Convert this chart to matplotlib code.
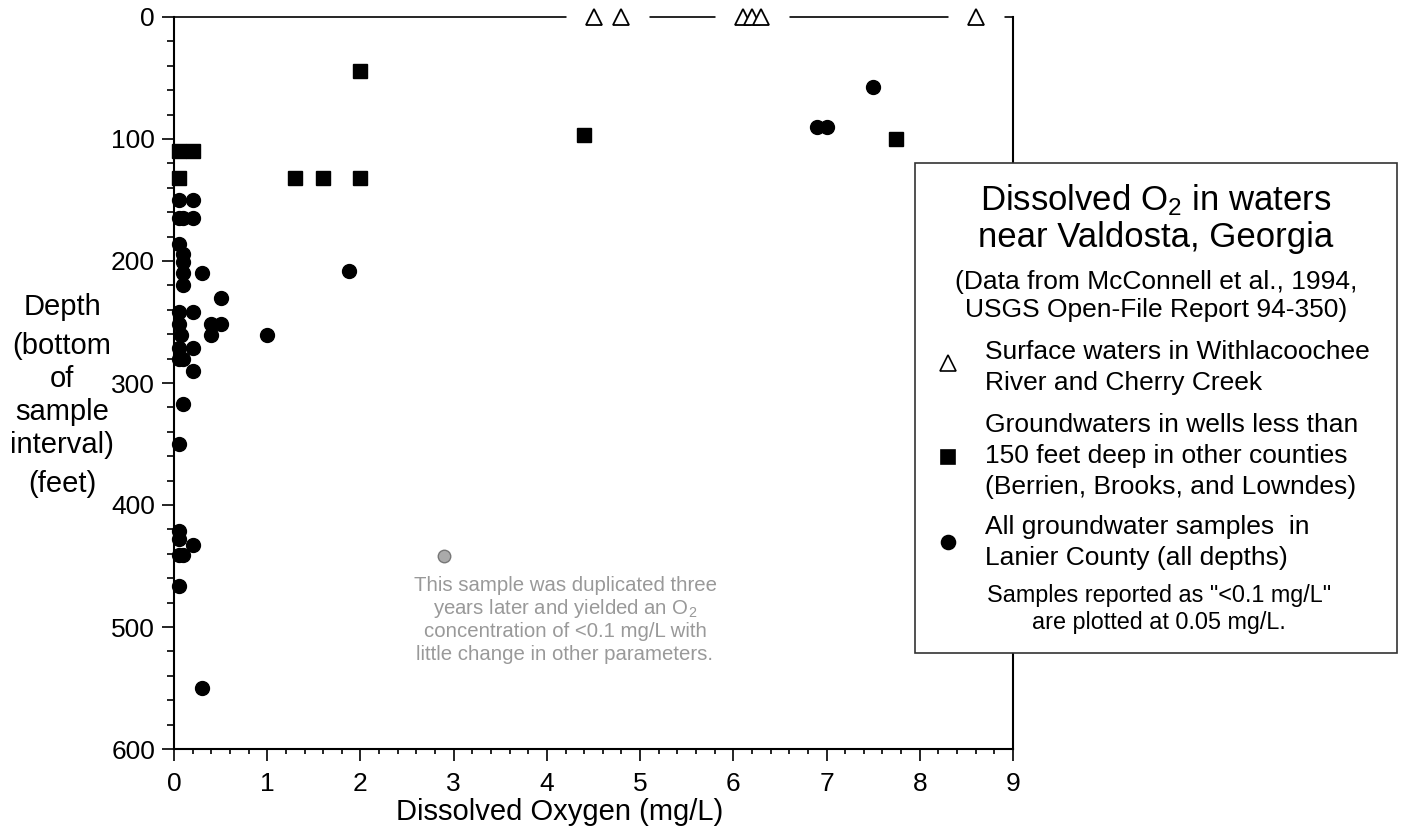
import matplotlib
matplotlib.use("Agg")
import numpy as np
import matplotlib.pyplot as plt
from matplotlib.patches import Rectangle
from matplotlib.lines import Line2D

plt.rcParams["font.family"] = ["Liberation Sans", "DejaVu Sans"]
plt.rcParams["mathtext.fontset"] = "custom"
plt.rcParams["mathtext.rm"] = "Liberation Sans"
plt.rcParams["mathtext.it"] = "Liberation Sans:italic"
plt.rcParams["mathtext.bf"] = "Liberation Sans:bold"

# surface waters, plotted on the top edge (depth 0)
surface_do = [4.5, 4.8, 6.1, 6.2, 6.3, 8.6]
surface_depth = [0, 0, 0, 0, 0, 0]

# wells < 150 ft deep in Berrien, Brooks and Lowndes counties
shallow_do = [2.0, 0.05, 0.2, 0.05, 1.3, 1.6, 2.0, 4.4, 7.75]
shallow_depth = [44, 110, 110, 132, 132, 132, 132, 97, 100]

# all groundwater samples in Lanier County
lanier_do = [0.05, 0.2, 0.05, 0.1, 0.2, 0.05, 0.1, 0.1, 0.1, 0.3, 1.88,
             0.1, 0.5, 0.05, 0.2, 0.05, 0.4, 0.5, 0.08, 0.4, 1.0,
             0.05, 0.2, 0.05, 0.1, 0.2, 0.1, 0.05,
             0.05, 0.05, 0.2, 0.05, 0.1, 0.05, 0.3,
             7.5, 6.9, 7.0]
lanier_depth = [150, 150, 165, 165, 165, 186, 194, 201, 210, 210, 208,
                220, 230, 242, 242, 252, 252, 252, 261, 261, 261,
                271, 271, 280, 280, 290, 317, 350,
                421, 428, 433, 441, 441, 466, 550,
                57, 90, 90]

# sample that was later re-run (<0.1 mg/L)
dup_do = [2.9]
dup_depth = [442]

W, H = 1403, 830


def fx(px):
    return px / W


def fy(py):
    return 1 - py / H


fig = plt.figure(figsize=(W / 100, H / 100), dpi=100)
ax = fig.add_axes([fx(174), fy(749), (1013 - 174) / W, (749 - 17) / H])

ax.plot(lanier_do, lanier_depth, "o", color="black", ms=10, zorder=3, clip_on=False)
ax.plot(shallow_do, shallow_depth, "s", color="black", ms=10, zorder=3, clip_on=False)
ax.plot(dup_do, dup_depth, "o", mfc="#aaaaaa", mec="#777777", ms=9, mew=1, zorder=3)

# white boxes break the top frame line around the surface-water triangles
ax.plot(surface_do, surface_depth, "s", mfc="white", mec="none", ms=40,
        zorder=2.6, clip_on=False)
ax.plot(surface_do, surface_depth, "^", mfc="white", mec="black", ms=12, mew=1.3,
        zorder=4, clip_on=False)

ax.set_xlim(0, 9)
ax.set_ylim(600, 0)
ax.set_xticks(range(10))
ax.set_xticks(np.arange(0, 9.01, 0.2), minor=True)
ax.set_yticks(range(0, 601, 100))
ax.set_yticks(range(0, 601, 20), minor=True)
ax.tick_params(which="major", direction="out", length=8.6, width=1.2, labelsize=19)
ax.tick_params(axis="y", which="major", pad=5)
ax.tick_params(axis="x", which="major", pad=8)
ax.tick_params(axis="y", which="minor", direction="out", length=5, width=1.2)
ax.tick_params(axis="x", which="minor", direction="out", length=3.6, width=1.2)
for side in ["left", "bottom", "right"]:
    ax.spines[side].set_linewidth(1.5)
ax.spines["top"].set_linewidth(1.2)

ax.set_xlabel("Dissolved Oxygen (mg/L)", fontsize=21)
ax.xaxis.set_label_coords((560 - 174) / 839, -0.067)

# y axis label, one line at a time
ylab = [("Depth", 307), ("(bottom", 346), ("of", 379), ("sample", 412),
        ("interval)", 445), ("(feet)", 484)]
for txt, py in ylab:
    fig.text(fx(62), fy(py), txt, fontsize=21, ha="center", va="center")

# note about the grey sample
note = ["This sample was duplicated three",
        "years later and yielded an O$_2$",
        "concentration of <0.1 mg/L with",
        "little change in other parameters."]
for i, line in enumerate(note):
    fig.text(fx(565), fy(585 + 23.3 * i), line, fontsize=14.7, color="#999999",
             ha="center", va="center")

# legend box
fig.add_artist(Rectangle((fx(915), fy(653)), (1397 - 915) / W, (653 - 163) / H,
                         transform=fig.transFigure, facecolor="white",
                         edgecolor="#333333", linewidth=1.2, zorder=5))
cx = fx(1156)
fig.text(cx, fy(200), "Dissolved O$_2$ in waters", fontsize=25, ha="center", va="center", zorder=6)
fig.text(cx, fy(238), "near Valdosta, Georgia", fontsize=25, ha="center", va="center", zorder=6)
fig.text(cx, fy(282), "(Data from McConnell et al., 1994,", fontsize=19, ha="center", va="center", zorder=6)
fig.text(cx, fy(310), "USGS Open-File Report 94-350)", fontsize=19, ha="center", va="center", zorder=6)

entries = [
    ("^", "white", 363, ["Surface waters in Withlacoochee", "River and Cherry Creek"], 352),
    ("s", "black", 457, ["Groundwaters in wells less than", "150 feet deep in other counties",
                         "(Berrien, Brooks, and Lowndes)"], 425),
    ("o", "black", 542, ["All groundwater samples  in", "Lanier County (all depths)"], 527),
]
for marker, face, my, lines, ty in entries:
    fig.add_artist(Line2D([fx(948)], [fy(my)], marker=marker, mfc=face, mec="black",
                          ms=10 if marker != "^" else 12, mew=1.2, linestyle="none",
                          transform=fig.transFigure, zorder=6))
    for i, line in enumerate(lines):
        fig.text(fx(985), fy(ty + 31 * i), line, fontsize=19, ha="left", va="center", zorder=6)

fig.text(fx(1159), fy(595), 'Samples reported as "<0.1 mg/L"', fontsize=16.8,
         ha="center", va="center", zorder=6)
fig.text(fx(1159), fy(623), "are plotted at 0.05 mg/L.", fontsize=16.8,
         ha="center", va="center", zorder=6)

fig.savefig("out.png", dpi=100)
